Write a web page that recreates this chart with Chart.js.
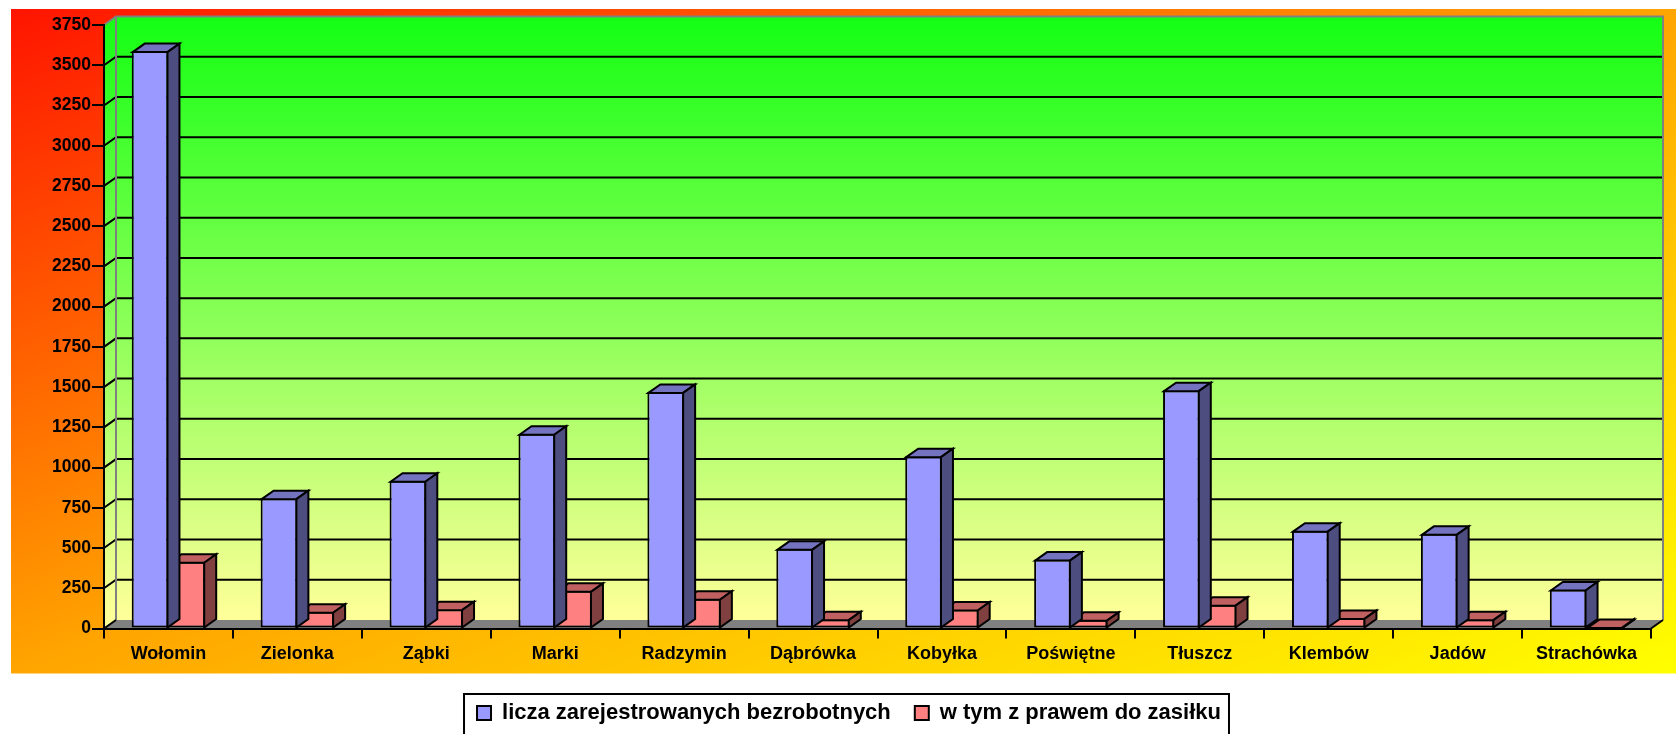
<!DOCTYPE html>
<html>
<head>
<meta charset="utf-8">
<script src="https://cdn.jsdelivr.net/npm/chart.js@4.4.1/dist/chart.umd.min.js"></script>
<style>
  html, body { margin: 0; padding: 0; background: #fff; }
</style>
</head>
<body>
<canvas id="myBarChart" width="1676" height="734"></canvas>
<script>
// data
var gminy = ['Wołomin', 'Zielonka', 'Ząbki', 'Marki', 'Radzymin', 'Dąbrówka', 'Kobyłka', 'Poświętne', 'Tłuszcz', 'Klembów', 'Jadów', 'Strachówka'];
var zarejestrowani = [3588, 810, 918, 1210, 1470, 495, 1071, 428, 1481, 608, 588, 242];
var zZasilkiem = [415, 104, 120, 234, 185, 58, 118, 54, 148, 66, 58, 10];
var yTicks = [0, 250, 500, 750, 1000, 1250, 1500, 1750, 2000, 2250, 2500, 2750, 3000, 3250, 3500, 3750];

// fake 3D depth
var dx = 12, dy = 8.5;
var fontFamily = "'Liberation Sans', Arial, sans-serif";

function poly(c, pts) {
    c.beginPath();
    c.moveTo(pts[0][0], pts[0][1]);
    for (var i = 1; i < pts.length; i++) c.lineTo(pts[i][0], pts[i][1]);
    c.closePath();
}

// background, legend frame, walls, floor and back grid
var walls = {
    id: 'walls',
    beforeDraw: function(chart) {
        var c = chart.ctx, a = chart.chartArea, ys = chart.scales.y;
        var L = a.left, R = a.right, T = a.top, B = a.bottom;
        c.save();

        // outer gradient box
        var bx = L - 93, by = T - 16, bw = chart.width - bx, bh = B + 45 - by;
        c.save();
        c.translate(bx, by);
        c.scale(bw, bh);
        var og = c.createLinearGradient(0, 0, 1, 1);
        og.addColorStop(0, '#ff1400');
        og.addColorStop(0.5, '#ffa500');
        og.addColorStop(1, '#ffff00');
        c.fillStyle = og;
        c.fillRect(0, 0, 1, 1);
        c.restore();

        // legend frame
        var hb = chart.legend.legendHitBoxes;
        if (hb && hb.length) {
            var last = hb[hb.length - 1];
            var lx = hb[0].left - 13, rx = last.left + last.width + 8, ty = hb[0].top - 8;
            c.fillStyle = '#fff';
            c.fillRect(lx, ty, rx - lx, chart.height - ty + 10);
            c.strokeStyle = '#000';
            c.lineWidth = 2;
            c.strokeRect(lx, ty, rx - lx, chart.height - ty + 10);
        }

        // back + side wall
        var wg = c.createLinearGradient(0, T - dy, 0, B - dy);
        wg.addColorStop(0, '#14ff14');
        wg.addColorStop(1, '#ffff99');
        c.fillStyle = wg;
        c.fillRect(L + dx, T - dy, R - L, B - T);
        poly(c, [[L, T], [L + dx, T - dy], [L + dx, B - dy], [L, B]]);
        c.fill();

        // floor
        c.fillStyle = '#808080';
        poly(c, [[L, B], [L + dx, B - dy], [R + dx, B - dy], [R, B]]);
        c.fill();

        // grid lines on the walls
        c.strokeStyle = '#000';
        c.lineWidth = 2;
        ys.ticks.forEach(function(t) {
            if (t.value <= 0 || t.value >= ys.max) return;
            var py = ys.getPixelForValue(t.value);
            c.beginPath();
            c.moveTo(L, py);
            c.lineTo(L + dx, py - dy);
            c.lineTo(R + dx, py - dy);
            c.stroke();
        });

        // grey wall outline
        c.strokeStyle = '#808080';
        c.beginPath();
        c.moveTo(L, T);
        c.lineTo(L + dx, T - dy);
        c.lineTo(R + dx, T - dy);
        c.lineTo(R + dx, B - dy);
        c.moveTo(L + dx, T - dy);
        c.lineTo(L + dx, B - dy);
        c.stroke();

        // floor front corners
        c.strokeStyle = '#000';
        c.beginPath();
        c.moveTo(L, B); c.lineTo(L + dx, B - dy);
        c.moveTo(R, B); c.lineTo(R + dx, B - dy);
        c.stroke();
        c.restore();
    }
};

// top and side faces of every bar
var barFaces = {
    id: 'barFaces',
    afterDatasetDraw: function(chart, args) {
        var c = chart.ctx, ds = chart.data.datasets[args.index];
        c.save();
        c.lineWidth = 2;
        c.strokeStyle = '#000';
        c.lineJoin = 'miter';
        args.meta.data.forEach(function(bar) {
            var p = bar.getProps(['x', 'y', 'base', 'width'], true);
            var l = p.x - p.width / 2 + 1, r = p.x + p.width / 2 - 1, t = p.y + 1, b = p.base;
            poly(c, [[l, t], [l + dx, t - dy], [r + dx, t - dy], [r, t]]);
            c.fillStyle = ds.topColor;
            c.fill();
            c.stroke();
            poly(c, [[r, t], [r + dx, t - dy], [r + dx, b - dy], [r, b]]);
            c.fillStyle = ds.sideColor;
            c.fill();
            c.stroke();
        });
        c.restore();
    }
};

Chart.defaults.font.family = fontFamily;

var ctx = document.getElementById('myBarChart').getContext('2d');
var myChart = new Chart(ctx, {
    type: 'bar',
    data: {
        labels: gminy,
        datasets: [{
            label: 'licza zarejestrowanych bezrobotnych',
            data: zarejestrowani,
            backgroundColor: '#9999ff',
            topColor: '#7373bf',
            sideColor: '#4d4d80',
            borderColor: '#000',
            borderWidth: 2,
            borderSkipped: false
        }, {
            label: 'w tym z prawem do zasiłku',
            data: zZasilkiem,
            backgroundColor: '#ff8080',
            topColor: '#c06060',
            sideColor: '#804040',
            borderColor: '#000',
            borderWidth: 2,
            borderSkipped: false
        }]
    },
    options: {
        responsive: false,
        devicePixelRatio: 1,
        animation: false,
        events: [],
        categoryPercentage: 0.57,
        barPercentage: 1,
        layout: {
            padding: { left: 47, right: 25, top: 25, bottom: 0 }
        },
        plugins: {
            tooltip: { enabled: false },
            legend: {
                position: 'bottom',
                labels: {
                    boxWidth: 14,
                    boxHeight: 14,
                    padding: 24,
                    color: '#000',
                    font: { size: 22, weight: 'bold' }
                }
            }
        },
        scales: {
            x: {
                grid: { drawOnChartArea: false, tickLength: 10, color: '#000', lineWidth: 2, offset: true },
                border: { color: '#000', width: 2 },
                ticks: {
                    color: '#000',
                    padding: 5,
                    maxRotation: 0,
                    autoSkip: false,
                    font: { size: 18, weight: 'bold' }
                },
                afterFit: function(s) { s.height = 49.5; }
            },
            y: {
                min: 0,
                max: 3750,
                afterBuildTicks: function(s) {
                    s.ticks = yTicks.map(function(v) { return { value: v }; });
                },
                grid: { drawOnChartArea: false, tickLength: 12, color: '#000', lineWidth: 2 },
                border: { color: '#000', width: 2 },
                ticks: {
                    color: '#000',
                    padding: 1,
                    autoSkip: false,
                    font: { size: 17.5, weight: 'bold' },
                    callback: function(v) { return String(v); }
                },
                afterFit: function(s) { s.width = 57; }
            }
        }
    },
    plugins: [walls, barFaces]
});
</script>
</body>
</html>
